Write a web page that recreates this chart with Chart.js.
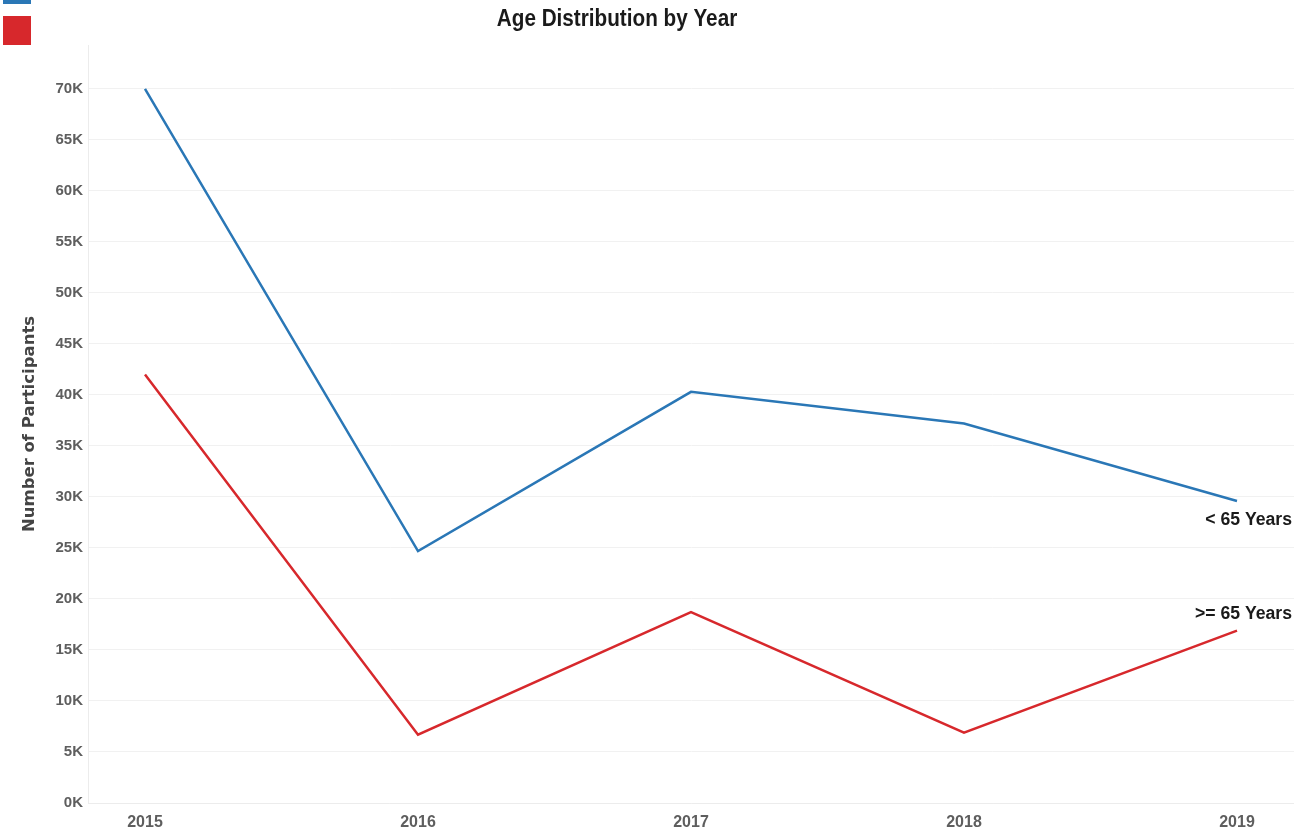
<!DOCTYPE html>
<html>
<head>
<meta charset="utf-8">
<script src="https://cdn.jsdelivr.net/npm/chart.js@4"></script>
<style>
  html, body { margin: 0; padding: 0; background: #fff; }
  #wrap { position: relative; width: 1294px; height: 834px; }
  .swatch { position: absolute; left: 3px; width: 28px; height: 29px; }
</style>
</head>
<body>
<div id="wrap">
  <canvas id="ageChart" width="1294" height="834"></canvas>
  <div id="legend"></div>
</div>
<script>
const chartTitle = 'Age Distribution by Year';
const years = [2015, 2016, 2017, 2018, 2019];
const seriesNames = ['< 65 Years', '>= 65 Years'];
const under65 = [70000, 24700, 40300, 37200, 29600];
const over65 = [42000, 6700, 18700, 6900, 16900];
const yTicks = [0, 5000, 10000, 15000, 20000, 25000, 30000, 35000, 40000, 45000, 50000, 55000, 60000, 65000, 70000];
const colors = ['#2a77b6', '#d7282c'];

const legend = document.getElementById('legend');
const swatchTops = [-25, 16];
colors.forEach((c, i) => {
  const sw = document.createElement('div');
  sw.className = 'swatch';
  sw.style.background = c;
  sw.style.top = swatchTops[i] + 'px';
  legend.appendChild(sw);
});

// draw condensed text: squeeze to a target width
function condensedText(ctx, text, x, y, squeeze) {
  ctx.save();
  ctx.translate(x, y);
  ctx.scale(squeeze, 1);
  ctx.fillText(text, 0, 0);
  ctx.restore();
}

// title + labels at the end of each line
const extras = {
  id: 'extras',
  afterDatasetsDraw(chart) {
    const ctx = chart.ctx;
    const ys = chart.scales.y;
    ctx.save();
    ctx.fillStyle = '#1a1a1a';
    ctx.textBaseline = 'middle';

    ctx.font = 'bold 23px "Liberation Sans", sans-serif';
    ctx.textAlign = 'center';
    condensedText(ctx, chartTitle, 617, 20, 0.9);

    ctx.font = 'bold 18px "Liberation Sans", sans-serif';
    ctx.textAlign = 'right';
    condensedText(ctx, seriesNames[0], 1292, ys.getPixelForValue(under65[4]) + 19, 0.98);
    condensedText(ctx, seriesNames[1], 1292, ys.getPixelForValue(over65[4]) - 17, 0.98);
    ctx.restore();
  }
};

const ctx = document.getElementById('ageChart').getContext('2d');
const chart = new Chart(ctx, {
  type: 'line',
  data: {
    datasets: [
      {
        label: seriesNames[0],
        data: years.map((y, i) => ({ x: y, y: under65[i] })),
        borderColor: colors[0],
        borderWidth: 2.5,
        pointRadius: 0,
        tension: 0,
        fill: false
      },
      {
        label: seriesNames[1],
        data: years.map((y, i) => ({ x: y, y: over65[i] })),
        borderColor: colors[1],
        borderWidth: 2.5,
        pointRadius: 0,
        tension: 0,
        fill: false
      }
    ]
  },
  options: {
    responsive: false,
    animation: false,
    layout: { padding: { left: 0, right: 0, top: 45, bottom: 0 } },
    plugins: {
      legend: { display: false },
      tooltip: { enabled: false },
      title: { display: false }
    },
    scales: {
      x: {
        type: 'linear',
        min: 2015 - 57 / 273,
        max: 2019 + 57 / 273,
        afterBuildTicks: (s) => { s.ticks = years.map(v => ({ value: v })); },
        afterFit: (s) => { s.height = 31; },
        grid: { display: false, drawTicks: false },
        border: { display: true, color: '#ececec', width: 1 },
        ticks: {
          padding: 10,
          color: '#5e5e5e',
          font: { family: '"Liberation Sans", sans-serif', size: 16, weight: 'bold' },
          callback: (v) => String(v)
        }
      },
      y: {
        min: 0,
        max: 74300,
        afterBuildTicks: (s) => { s.ticks = yTicks.map(v => ({ value: v })); },
        afterFit: (s) => { s.width = 88; },
        grid: { color: '#f1f1f1', drawTicks: false },
        border: { display: true, color: '#ececec', width: 1 },
        ticks: {
          padding: 5,
          color: '#5e5e5e',
          font: { family: '"Liberation Sans", sans-serif', size: 15, weight: 'bold' },
          callback: (v) => (v / 1000) + 'K'
        },
        title: {
          display: true,
          text: 'Number of Participants',
          color: '#444',
          font: { family: '"DejaVu Sans", sans-serif', size: 16.5, weight: 'bold' },
          padding: { top: 20, bottom: 4 }
        }
      }
    }
  },
  plugins: [extras]
});
</script>
</body>
</html>
